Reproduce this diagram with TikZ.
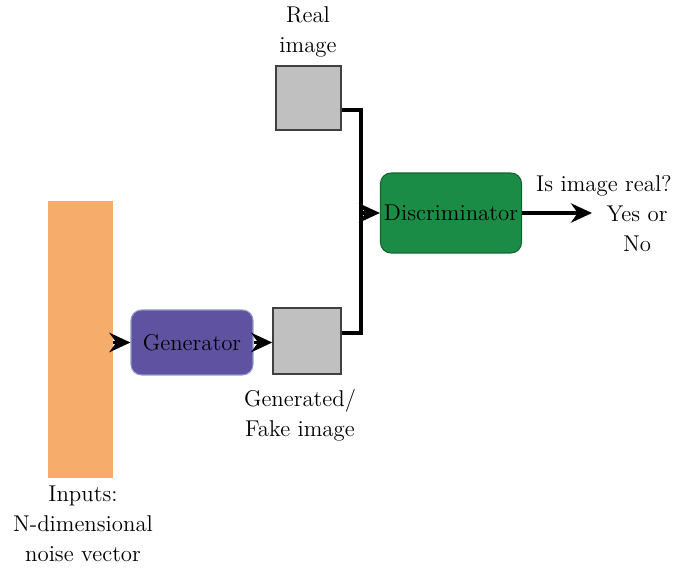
\documentclass[tikz,border=0pt]{standalone}
\usetikzlibrary{arrows.meta,positioning}
\definecolor{barorange}{RGB}{246,173,107}
\definecolor{genpurple}{RGB}{95,82,161}
\definecolor{genedge}{RGB}{140,150,200}
\definecolor{discgreen}{RGB}{26,140,70}
\definecolor{discedge}{RGB}{20,100,50}
\definecolor{imggray}{RGB}{192,192,192}

\begin{document}
\begin{tikzpicture}[x=0.02cm, y=-0.02cm, font=\fontsize{13}{17}\selectfont,
      net/.style={draw,rounded corners=6pt,align=center,line width=0.6pt,inner sep=2pt},
      img/.style={draw=black!75,fill=imggray,line width=0.8pt},
      lbl/.style={align=center,inner sep=0pt},
      flow/.style={line width=2pt,-{Stealth[length=12pt,width=11pt]}}]
    \useasboundingbox (0,0) rectangle (677,571);

    \node[fill=barorange,minimum width=1.3cm,minimum height=5.54cm,inner sep=0pt] (noise) at (80.5,339.5) {};
    \node[net,fill=genpurple,draw=genedge,minimum width=2.44cm,minimum height=1.3cm] (gen) at (192,342.5) {Generator};
    \node[img,minimum width=1.36cm,minimum height=1.32cm] (fake) at (307,341) {};
    \node[img,minimum width=1.3cm,minimum height=1.28cm] (real) at (308.5,98) {};
    \node[net,fill=discgreen,draw=discedge,minimum width=2.76cm,minimum height=1.6cm] (disc) at (451,213) {Discriminator};

    \node[lbl] (reallbl) at (308,32) {Real\\image};
    \node[lbl] (fakelbl) at (300,415) {Generated/\\Fake image};
    \node[lbl] (inlbl) at (83,524) {Inputs:\\N-dimensional\\noise vector};

    \coordinate (join) at (361,213);
    \coordinate (out) at (592,213);

    \draw[flow] (noise.east |- gen) -- (gen.west);
    \draw[flow] (gen.east) -- (fake.west |- gen);

    % real and fake both go to the discriminator
    \draw[line width=2pt] (real.east |- 0,110) -| (join) |- (fake.east |- 0,333);
    \draw[flow] (join) -- (disc.west);
    \draw[flow] (disc.east) -- (out);

    \node[lbl] (ask) at (604,186) {Is image real?};
    \node[lbl] (ans) at (637,229) {Yes or\\No};
\end{tikzpicture}
\end{document}
